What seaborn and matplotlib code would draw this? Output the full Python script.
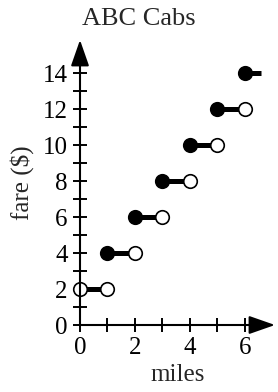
import matplotlib
matplotlib.use("Agg")
import matplotlib.pyplot as plt
import seaborn as sns
import pandas as pd

# fare steps: closed dot at start, open dot at end
miles_start = [0, 1, 2, 3, 4, 5, 6]
miles_end = [1, 2, 3, 4, 5, 6, 6.6]
fare = [2, 4, 6, 8, 10, 12, 14]
start_closed = [False, True, True, True, True, True, True]
end_open = [True, True, True, True, True, True, False]

x_ticks = [0, 1, 2, 3, 4, 5, 6]
x_labels = ["0", "", "2", "", "4", "", "6"]
y_ticks = list(range(0, 15))
y_labels = [str(v) if v % 2 == 0 else "" for v in y_ticks]

sns.set_style("white")
plt.rcParams['font.family'] = ['Liberation Serif', 'DejaVu Serif']

fig = plt.figure(figsize=(2.78, 3.92), dpi=100)
ax = fig.add_axes([80 / 278, (392 - 325) / 392, (275 - 80) / 278, (325 - 40) / 392])
ax.set_xlim(0, 7.1)
ax.set_ylim(0, 15.85)

df = pd.DataFrame({"x0": miles_start, "x1": miles_end, "fare": fare,
                   "closed": start_closed, "open": end_open})

ax.hlines(df["fare"], df["x0"], df["x1"], color="black", lw=3.6, zorder=2)

closed = df[df["closed"]][["x0", "fare"]].rename(columns={"x0": "x"})
opened = pd.concat([df[~df["closed"]][["x0", "fare"]].rename(columns={"x0": "x"}),
                    df[df["open"]][["x1", "fare"]].rename(columns={"x1": "x"})])

sns.scatterplot(data=closed, x="x", y="fare", ax=ax, s=95, color="black",
                edgecolor="black", linewidth=1.2, zorder=3, clip_on=False)
sns.scatterplot(data=opened, x="x", y="fare", ax=ax, s=95, color="white",
                edgecolor="black", linewidth=1.2, zorder=3, clip_on=False)

# axes with arrow heads
arrow = dict(arrowstyle="-|>,head_length=0.8,head_width=0.28", color="black",
             lw=1.5, mutation_scale=20, shrinkA=0, shrinkB=0)
ax.annotate("", xy=(7.1, 0), xytext=(0, 0), arrowprops=arrow,
            annotation_clip=False, zorder=4)
ax.annotate("", xy=(0, 15.85), xytext=(0, 0), arrowprops=arrow,
            annotation_clip=False, zorder=4)

for s in ax.spines.values():
    s.set_visible(False)

ax.set_xticks(x_ticks)
ax.set_xticklabels(x_labels)
ax.set_yticks(y_ticks)
ax.set_yticklabels(y_labels)
ax.tick_params(direction="inout", length=10, width=1.4, pad=4,
               labelsize=18, colors="black", bottom=True, left=True)
ax.set_axisbelow(False)

ax.set_xlabel("miles", fontsize=18, labelpad=3)
ax.set_ylabel("fare ($)", fontsize=18, labelpad=6)
fig.text(0.5, 1 - 25 / 392, "ABC Cabs", fontsize=19, ha="center", va="baseline")

fig.savefig("out.png", dpi=100, facecolor="white")
